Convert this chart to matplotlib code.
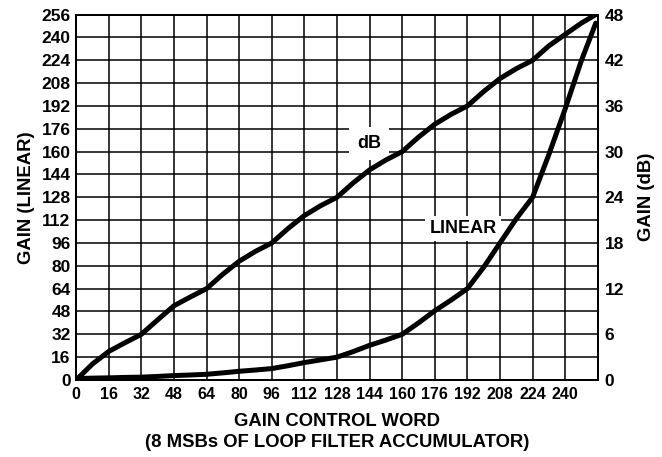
import matplotlib
matplotlib.use("Agg")
import matplotlib.pyplot as plt

plt.rcParams['font.family'] = ['Liberation Sans', 'DejaVu Sans']
plt.rcParams['font.weight'] = 'bold'

# Gain control word samples
gain_word = [0, 8, 16, 24, 32, 40, 48, 56, 64, 72, 80, 88, 96, 104, 112, 120, 128,
             136, 144, 152, 160, 168, 176, 184, 192, 200, 208, 216, 224, 232, 240, 248, 255]
# Gain in dB
gain_db = [0, 2.1, 3.75, 4.9, 6, 7.9, 9.75, 10.9, 12, 13.9, 15.6, 16.9, 18, 19.9, 21.6, 22.9, 24,
           25.9, 27.6, 28.9, 30, 31.9, 33.6, 34.9, 36, 37.9, 39.6, 40.9, 42, 43.9, 45.4, 46.9, 48]
# Linear gain
gain_linear = [1, 1.3, 1.5, 1.8, 2, 2.5, 3.1, 3.5, 4, 5, 6.1, 7, 8, 10, 12.2, 14.1, 16,
               19.9, 24.3, 28, 32, 40, 48.5, 56, 64, 79, 96, 113, 128, 158, 190, 224, 250]

x_ticks = [0, 16, 32, 48, 64, 80, 96, 112, 128, 144, 160, 176, 192, 208, 224, 240]
left_ticks = [0, 16, 32, 48, 64, 80, 96, 112, 128, 144, 160, 176, 192, 208, 224, 240, 256]
right_ticks = [0, 6, 12, 18, 24, 30, 36, 42, 48]

fig = plt.figure(figsize=(6.62, 4.57), dpi=100)
ax = fig.add_axes([0.115, 0.1685, 0.788, 0.7995])
ax.set_xlim(0, 256)
ax.set_ylim(0, 256)
ax.set_xticks(x_ticks)
ax.set_xticks([256], minor=True)
ax.set_yticks(left_ticks)
ax.grid(True, which='both', color='black', linewidth=1.1)
ax.set_axisbelow(True)
ax.tick_params(axis='both', which='both', length=0)
ax.tick_params(axis='x', labelsize=11.5, pad=5)
ax.tick_params(axis='y', labelsize=12.5, pad=4)
for s in ax.spines.values():
    s.set_linewidth(1.4)

ax.plot(gain_word, gain_linear, color='black', linewidth=3.6, solid_capstyle='round', zorder=3)

ax2 = ax.twinx()
ax2.set_ylim(0, 48)
ax2.set_yticks(right_ticks)
ax2.tick_params(axis='y', length=0, labelsize=12.5, pad=5)
for s in ax2.spines.values():
    s.set_linewidth(1.4)
ax2.plot(gain_word, gain_db, color='black', linewidth=3.6, solid_capstyle='round', zorder=3)

ax.text(143.7, 165.8, 'dB', ha='center', va='center', fontsize=13, fontweight='bold',
        bbox=dict(facecolor='white', edgecolor='none', pad=6), zorder=2.5)
ax.text(189.8, 106.3, 'LINEAR', ha='center', va='center', fontsize=13, fontweight='bold',
        bbox=dict(facecolor='white', edgecolor='none', pad=3), zorder=2.5)

ax.set_ylabel('GAIN (LINEAR)', fontsize=13.3, fontweight='bold', labelpad=5)
ax2.set_ylabel('GAIN (dB)', fontsize=13.3, fontweight='bold', labelpad=10, rotation=90)
ax.set_xlabel('GAIN CONTROL WORD\n(8 MSBs OF LOOP FILTER ACCUMULATOR)', fontsize=13.3,
              fontweight='bold', labelpad=8, linespacing=1.3)

fig.savefig('out.png', dpi=100)
